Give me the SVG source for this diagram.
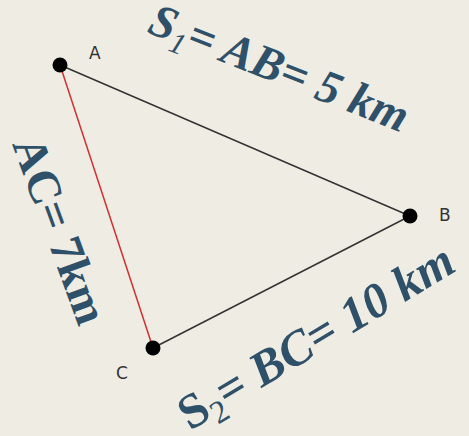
<svg xmlns="http://www.w3.org/2000/svg" width="469" height="436" viewBox="0 0 469 436">
<style>
.big{font-family:"Liberation Serif","Times New Roman",serif;font-weight:bold;fill:#2e5068}
.lbl{font-family:"DejaVu Sans",sans-serif;font-size:17px;fill:#333}
.pt{fill:#000}
</style>
<rect width="469" height="436" fill="#efece4"/>
<g id="connectors">
<line x1="60" y1="65" x2="410" y2="216" stroke="#333" stroke-width="1.5"/>
<line x1="410" y1="216" x2="153" y2="348" stroke="#333" stroke-width="1.5"/>
<line x1="60" y1="65" x2="153" y2="348" stroke="#d03030" stroke-width="1.5"/>
</g>
<g id="A"><circle class="pt" cx="60" cy="65" r="7.5"/><text class="lbl" x="89" y="59">A</text></g>
<g id="B"><circle class="pt" cx="410" cy="216" r="7.5"/><text class="lbl" x="439" y="221">B</text></g>
<g id="C"><circle class="pt" cx="153" cy="348" r="7.5"/><text class="lbl" x="116" y="379">C</text></g>
<text class="big" font-size="47" font-style="italic" transform="translate(146,32) rotate(21.5)">S<tspan font-size="30" dy="9" font-weight="normal">1</tspan><tspan dy="-9">= AB= 5 km</tspan></text>
<text class="big" font-size="49" transform="translate(190,431) rotate(-31)">S<tspan font-size="32" dy="9" font-weight="normal">2</tspan><tspan dy="-9" font-style="italic">= BC= 10 km</tspan></text>
<text class="big" font-size="47" font-weight="normal" transform="translate(12,144) rotate(70)">AC= <tspan font-weight="bold">7km</tspan></text>
</svg>
